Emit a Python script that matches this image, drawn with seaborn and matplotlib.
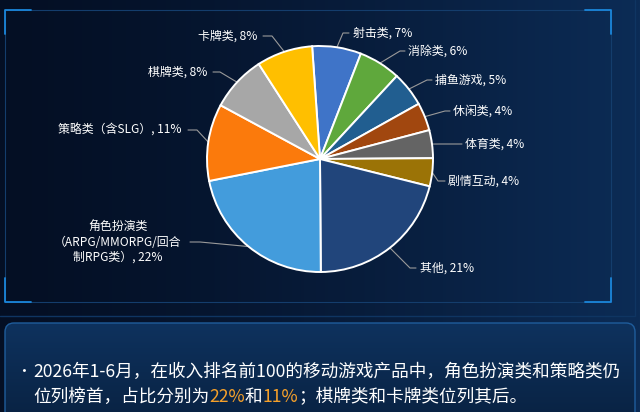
import numpy as np
import matplotlib
matplotlib.use("Agg")
import matplotlib.pyplot as plt
import seaborn as sns
from matplotlib.patches import FancyBboxPatch

sns.set_theme(style="white")
plt.rcParams['font.family'] = ['Noto Sans CJK SC', 'DejaVu Sans']

# ---------------- data ----------------
categories = ["射击类", "消除类", "捕鱼游戏", "休闲类", "体育类", "剧情互动",
              "其他", "角色扮演类", "策略类", "棋牌类", "卡牌类"]
shares = [7, 6, 5, 4, 4, 4, 21, 22, 11, 8, 8]
label_texts = ["射击类, 7%", "消除类, 6%", "捕鱼游戏, 5%", "休闲类, 4%", "体育类, 4%",
               "剧情互动, 4%", "其他, 21%",
               "角色扮演类\n（ARPG/MMORPG/回合\n制RPG类）, 22%",
               "策略类（含SLG）, 11%", "棋牌类, 8%", "卡牌类, 8%"]
colors = ["#3F74C8", "#5FA83C", "#215E90", "#A1470F", "#646464", "#9B7306",
          "#21457B", "#439CDC", "#FB7A0C", "#A7A7A7", "#FFBF00"]
note_parts = [
    ["2026年1-6月，在收入排名前100的移动游戏产品中，角色扮演类和策略类仍"],
    ["位列榜首，占比分别为", "22%", "和", "11%", "；棋牌类和卡牌类位列其后。"],
]
note_highlight = [[False], [False, True, False, True, False]]

# ---------------- layout (pixel coords, y from top) ----------------
W, H = 640, 412
CX, CY, R = 320, 159, 113
START = 94
# text anchor x, y, ha, leader end x, elbow x
label_layout = [
    (353, 33, "left", 349, 343),
    (408, 51, "left", 405, 400),
    (435, 80, "left", 432, 427),
    (453, 111, "left", 450, 445),
    (465, 144, "left", 462, 440),
    (448, 181, "left", 445, 438),
    (420, 268, "left", 416, 410),
    (118, 242, "center", 190, 200),
    (182, 130, "right", 188, 197),
    (207, 72, "right", 213, 220),
    (257, 36, "right", 263, 272),
]

def Y(p):
    return H - p

fig = plt.figure(figsize=(6.4, 4.12), dpi=100)
ax = fig.add_axes([0, 0, 1, 1])

# background gradient
xs = np.linspace(0, 1, W)
t = (xs ** 1.3)[None, :] * np.ones((H, 1))
c0 = np.array([4, 15, 36]) / 255
c1 = np.array([12, 44, 86]) / 255
img = c0[None, None, :] * (1 - t[..., None]) + c1[None, None, :] * t[..., None]
ax.imshow(img, extent=(0, W, 0, H), origin="upper", zorder=0, aspect="auto")

# pie
wedges, _ = ax.pie(shares, colors=colors, startangle=START, counterclock=False,
                   center=(CX, Y(CY)), radius=R,
                   wedgeprops=dict(edgecolor="white", linewidth=1.4))
for w in wedges:
    w.set_zorder(3)

# labels + leaders
theta = START
for i, (txt, v) in enumerate(zip(label_texts, shares)):
    span = v / sum(shares) * 360
    mid = np.deg2rad(theta - span / 2)
    theta -= span
    px, py = CX + R * np.cos(mid), CY - R * np.sin(mid)
    tx, ty, ha, ex, elx = label_layout[i]
    ax.plot([px, elx, ex], [Y(py), Y(ty), Y(ty)], color="#9a9a9a", lw=0.8, zorder=2)
    ax.text(tx, Y(ty), txt, color="white", fontsize=8.6, ha=ha, va="center",
            multialignment="center", linespacing=1.25, zorder=4)

# panel frame
fc = "#143d6c"
ax.plot([5, 611, 611, 5, 5], [Y(10), Y(10), Y(302), Y(302), Y(10)], color=fc, lw=0.8, zorder=1)
ax.plot([0, 635], [Y(316), Y(316)], color="#0f3562", lw=1.0, zorder=1)
ax.plot([635, 635], [Y(0), Y(316)], color="#0f3562", lw=1.0, zorder=1)
bc = "#1B86DA"
for (x0, y0, dx, dy) in [(5, 10, 1, 1), (611, 10, -1, 1), (5, 302, 1, -1), (611, 302, -1, -1)]:
    ax.plot([x0 + dx * 26, x0, x0], [Y(y0), Y(y0), Y(y0 + dy * 24)], color=bc, lw=1.3,
            zorder=2, solid_capstyle="round")

# lower note box
box = FancyBboxPatch((5, Y(422)), 630, 99, boxstyle="round,pad=0,rounding_size=9",
                     facecolor="none", edgecolor="#1f5d9c", lw=1.0, zorder=3)
ax.add_patch(box)
gy = np.linspace(0, 1, 100)[:, None]
g0 = np.array([14, 50, 94]) / 255
g1 = np.array([9, 34, 66]) / 255
gimg = g0[None, None, :] * (1 - gy[..., None]) + g1[None, None, :] * gy[..., None]
gimg = np.repeat(gimg, 10, axis=1)
gi = ax.imshow(gimg, extent=(5, 635, Y(422), Y(323)), origin="upper", zorder=2, aspect="auto")
gi.set_clip_path(box)

# note text
fs = 12.7
ax.text(16, Y(372), "•", color="white", fontsize=fs - 2, ha="left", va="center", zorder=5)
line_y = [372, 397]
for li, parts in enumerate(note_parts):
    prev = None
    for part, hl in zip(parts, note_highlight[li]):
        col = "#F5A02A" if hl else "white"
        if prev is None:
            prev = ax.text(33, Y(line_y[li]), part, color=col, fontsize=fs,
                           ha="left", va="center", zorder=5)
        else:
            prev = ax.annotate(part, xy=(1, 0), xycoords=prev, ha="left", va="bottom",
                               color=col, fontsize=fs, zorder=5)

ax.set_xlim(0, W)
ax.set_ylim(0, H)
ax.set_aspect("auto")
ax.axis("off")
fig.savefig("out.png", dpi=100)
